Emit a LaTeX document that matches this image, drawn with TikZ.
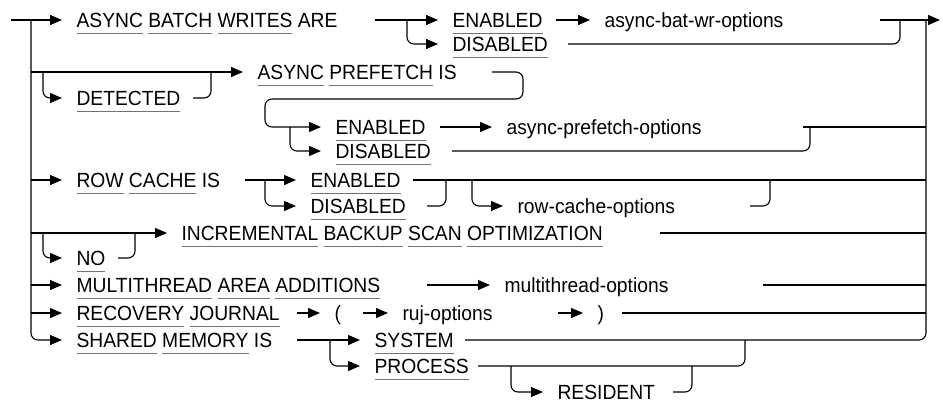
\documentclass[tikz,border=0pt]{standalone}
\usepackage{fontspec}
\setmainfont{Liberation Sans}
\newfontfamily\railfont[FakeStretch=0.94]{Liberation Sans}
\usetikzlibrary{arrows.meta}

\newsavebox\kwbox
\newcommand\kw[1]{\sbox\kwbox{#1}\rlap{\color{black!55}\rule[-7pt]{\wd\kwbox}{0.9pt}}\usebox\kwbox}

\begin{document}
\begin{tikzpicture}[x=1pt,y=-1pt,line width=1.1pt,
	arr/.style={-{Triangle[length=12pt,width=10pt]}},
	loop/.style={rounded corners=7pt},
	item/.style={anchor=west,inner xsep=14pt,inner ysep=0pt,text height=14.6pt,text depth=0pt,
		font=\railfont\fontsize{20.5}{24}\selectfont}]

	\useasboundingbox (0,0) rectangle (943,405);

	% ---- entry and exit

	\coordinate (in) at (11,20);
	\coordinate (out) at (940,20);

	% ---- async batch writes

	\node[item] (abw) at (62,20) {\kw{ASYNC} \kw{BATCH} \kw{WRITES} ARE};
	\node[item] (en1) at (438,20) {\kw{ENABLED}};
	\node[item] (dis1) at (438,44) {\kw{DISABLED}};
	\node[item] (abwopt) at (590,20) {async-bat-wr-options};

	\draw[arr] (in) -- (abw);
	\draw[arr] (375,20) -- (en1);
	\draw[arr,loop] (407,20) |- (dis1);
	\draw[arr] (556,20) -- (abwopt);
	\draw[loop] (568,44) -| (900,20);
	\draw[arr] (880,20) -- (out);

	% ---- async prefetch

	\node[item] (det) at (62,98) {\kw{DETECTED}};
	\node[item] (apf) at (243,72) {\kw{ASYNC} \kw{PREFETCH} IS};
	\node[item] (en2) at (321,127) {\kw{ENABLED}};
	\node[item] (dis2) at (321,151) {\kw{DISABLED}};
	\node[item] (apfopt) at (492,127) {async-prefetch-options};

	\draw[arr] (31,72) -- (apf);
	\draw[arr,loop] (43,72) |- (det);
	\draw[loop] (193,98) -| (211,72);
	\draw[arr,loop] (492,72) -| (523,99) -| (265,127) -- (en2);
	\draw[arr,loop] (290,127) |- (dis2);
	\draw[arr] (440,127) -- (apfopt);
	\draw (803,127) -- (926,127);
	\draw[loop] (452,151) -| (810,127);

	% ---- row cache

	\node[item] (rc) at (62,180) {\kw{ROW} \kw{CACHE} IS};
	\node[item] (en3) at (296,180) {\kw{ENABLED}};
	\node[item] (dis3) at (296,206) {\kw{DISABLED}};
	\node[item] (rcopt) at (503,206) {row-cache-options};

	\draw[arr] (31,180) -- (rc);
	\draw[arr] (245,180) -- (en3);
	\draw[arr,loop] (265,180) |- (dis3);
	\draw (413,180) -- (926,180);
	\draw[loop] (427,206) -| (446,180);
	\draw[arr,loop] (472,180) |- (rcopt);
	\draw[loop] (750,206) -| (770,180);

	% ---- incremental backup

	\node[item] (no) at (62,258) {\kw{NO}};
	\node[item] (ibs) at (167,233) {\kw{INCREMENTAL} \kw{BACKUP} \kw{SCAN} \kw{OPTIMIZATION}};

	\draw[arr] (31,233) -- (ibs);
	\draw[arr,loop] (43,233) |- (no);
	\draw[loop] (118,258) -| (135,233);
	\draw (660,233) -- (926,233);

	% ---- multithread

	\node[item] (mta) at (62,285) {\kw{MULTITHREAD} \kw{AREA} \kw{ADDITIONS}};
	\node[item] (mtopt) at (490,285) {multithread-options};

	\draw[arr] (31,285) -- (mta);
	\draw[arr] (427,285) -- (mtopt);
	\draw (763,285) -- (926,285);

	% ---- recovery journal

	\node[item] (rj) at (62,313) {\kw{RECOVERY} \kw{JOURNAL}};
	\node[item] (lp) at (320,313) {(};
	\node[item] (ruj) at (388,313) {ruj-options};
	\node[item] (rp) at (583,313) {)};

	\draw[arr] (31,313) -- (rj);
	\draw[arr] (297,313) -- (lp);
	\draw[arr] (363,313) -- (ruj);
	\draw[arr] (558,313) -- (rp);
	\draw (622,313) -- (926,313);

	% ---- shared memory

	\node[item] (smi) at (62,340) {\kw{SHARED} \kw{MEMORY} IS};
	\node[item] (sys) at (360,340) {\kw{SYSTEM}};
	\node[item] (proc) at (360,366) {\kw{PROCESS}};
	\node[item] (res) at (543,392) {RESIDENT};

	\draw[arr,loop] (31,20) |- (smi);
	\draw[arr] (297,340) -- (sys);
	\draw[arr,loop] (330,340) |- (proc);
	\draw[loop] (465,340) -| (926,20);
	\draw[loop] (478,366) -| (745,340);
	\draw[arr,loop] (511,366) |- (res);
	\draw[loop] (673,392) -| (692,366);

\end{tikzpicture}
\end{document}
